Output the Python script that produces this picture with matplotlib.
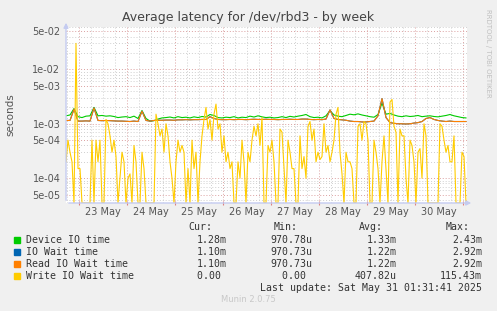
import datetime as dt
import numpy as np
import matplotlib
matplotlib.use('Agg')
import matplotlib.pyplot as plt
import matplotlib.dates as mdates
from matplotlib.ticker import FixedLocator, LogLocator, NullFormatter

W, H = 497, 311

# data (milliseconds)
start = dt.datetime(2025, 5, 22, 17, 30)

# 2-hourly samples
device_io = [
    1.40, 1.45, 1.90, 1.35, 1.30, 1.38, 1.40, 2.00, 1.40, 1.42,
    1.38, 1.40, 1.36, 1.30, 1.33, 1.35, 1.30, 1.38, 1.25, 1.75,
    1.25, 1.12, 1.14, 1.22, 1.28, 1.30, 1.33, 1.28, 1.35, 1.30,
    1.32, 1.28, 1.34, 1.30, 1.36, 1.33, 1.48, 1.42, 1.30, 1.28,
    1.32, 1.30, 1.35, 1.28, 1.32, 1.30, 1.38, 1.33, 1.40, 1.34,
    1.30, 1.32, 1.28, 1.30, 1.35, 1.30, 1.37, 1.33, 1.38, 1.42,
    1.48, 1.35, 1.30, 1.32, 1.28, 1.40, 1.75, 1.45, 1.38, 1.35,
    1.42, 1.50, 1.46, 1.52, 1.45, 1.40, 1.35, 1.32, 1.48, 2.40,
    1.50, 1.55, 1.45, 1.38, 1.35, 1.40, 1.36, 1.38, 1.42, 1.35,
    1.38, 1.40, 1.36, 1.34, 1.38, 1.42, 1.48, 1.40, 1.35, 1.30,
    1.28]

io_wait = [
    1.15, 1.15, 1.85, 1.12, 1.12, 1.13, 1.12, 1.95, 1.15, 1.14,
    1.15, 1.14, 1.13, 1.12, 1.12, 1.11, 1.10, 1.12, 1.10, 1.70,
    1.15, 1.12, 1.15, 1.16, 1.16, 1.17, 1.17, 1.16, 1.18, 1.18,
    1.19, 1.18, 1.19, 1.19, 1.20, 1.20, 1.35, 1.25, 1.20, 1.19,
    1.19, 1.20, 1.19, 1.20, 1.20, 1.19, 1.20, 1.21, 1.20, 1.20,
    1.21, 1.20, 1.20, 1.19, 1.20, 1.20, 1.21, 1.20, 1.20, 1.22,
    1.22, 1.20, 1.19, 1.20, 1.19, 1.22, 1.80, 1.25, 1.20, 1.18,
    1.16, 1.12, 1.10, 1.10, 1.08, 1.08, 1.10, 1.12, 1.40, 2.90,
    1.30, 1.05, 1.02, 1.00, 1.00, 0.99, 1.00, 1.03, 1.05, 1.10,
    1.25, 1.30, 1.20, 1.15, 1.12, 1.10, 1.12, 1.10, 1.10, 1.10,
    1.10]

read_io_wait = list(io_wait)

# hourly samples
write_io_wait = [
    0.20, 0.50, 0.30, 0.20, 0, 30.0, 0.15, 0.15, 0, 0,
    0, 0, 0, 0.50, 0, 0.50, 0.20, 0.50, 0, 0,
    1.20, 1.00, 0.60, 0.30, 0.50, 0.25, 0, 0.10, 0.30, 0.20,
    0, 0.10, 0.12, 0, 0.40, 0.20, 0, 0, 0.30, 0.15,
    0, 0, 0, 0, 0, 1.50, 1.00, 0.60, 0.80, 0.30,
    1.00, 0.60, 0.20, 0.10, 0, 0.20, 0.50, 0.30, 0.40, 0.30,
    0, 0.15, 0, 0.50, 0.15, 0.30, 0, 0.20, 0.60, 1.20,
    2.00, 0.80, 1.20, 0.50, 1.50, 2.30, 0.80, 1.00, 0.30, 0.60,
    0.20, 0.30, 0.15, 0.20, 0, 0, 0.20, 0.10, 0.50, 0.20,
    0, 0.30, 0.20, 0.50, 0.90, 0.60, 1.00, 0.40, 1.30, 0,
    0, 0.40, 0.30, 0.50, 0.20, 0, 0, 0.80, 0.70, 0.15,
    0, 0.50, 0.30, 0.15, 0.15, 0, 0, 0.60, 0.15, 0.25,
    0.10, 0.90, 1.10, 0.50, 0.80, 0.20, 0.30, 0.22, 0.25, 1.00,
    0.30, 0.40, 0.20, 0.30, 0.50, 1.50, 2.00, 0.30, 0.12, 0,
    0.30, 0.20, 0.20, 0.15, 0, 0, 0.90, 1.00, 0.50, 1.10,
    1.00, 0.50, 0, 0, 0.50, 0.30, 0.15, 0, 0.20, 0.60,
    0.15, 0, 2.50, 2.80, 0.90, 0.70, 0, 0.80, 0.60, 0.60,
    0.10, 0, 0.50, 0.40, 0.20, 0, 0.30, 0.35, 0.10, 1.00,
    0.60, 0, 0, 0, 0, 0, 0, 1.00, 0.90, 0.50,
    0.30, 0.40, 0.20, 0.20, 0.60, 0, 0, 0, 0.30, 0.25,
    0]

names = ['Device IO time', 'IO Wait time', 'Read IO Wait time', 'Write IO Wait time']
colors = ['#00CC00', '#0066B3', '#FF8000', '#FFCC00']
cur = ['1.28m', '1.10m', '1.10m', '0.00 ']
mins = ['970.78u', '970.73u', '970.73u', '0.00 ']
avgs = ['1.33m', '1.22m', '1.22m', '407.82u']
maxs = ['2.43m', '2.92m', '2.92m', '115.43m']
day_labels = ['23 May', '24 May', '25 May', '26 May', '27 May', '28 May', '29 May', '30 May']
ytick_vals = [5e-2, 1e-2, 5e-3, 1e-3, 5e-4, 1e-4, 5e-5]

t2 = [start + dt.timedelta(hours=2 * i) for i in range(len(device_io))]
t1 = [start + dt.timedelta(hours=i) for i in range(len(write_io_wait))]

ylo, yhi = 3.5e-5, 6.0e-2

fig = plt.figure(figsize=(W / 100, H / 100), dpi=100, facecolor='#F0F0F0')
ax = fig.add_axes([66 / W, 1 - 203 / H, 401 / W, 176 / H])
ax.set_facecolor('white')

series = [(t2, device_io), (t2, io_wait), (t2, read_io_wait), (t1, write_io_wait)]
for (tt, vals), c in zip(series, colors):
    v = np.clip(np.array(vals) * 1e-3, ylo, None)
    ax.plot(tt, v, color=c, lw=0.8, zorder=3)

ax.set_yscale('log')
ax.set_ylim(ylo, yhi)
ax.set_xlim(start, start + dt.timedelta(hours=200.5))

ax.yaxis.set_major_locator(FixedLocator(ytick_vals))
ax.set_yticklabels(['%.0e' % v for v in ytick_vals])
ax.yaxis.set_minor_locator(LogLocator(subs=[2, 3, 4, 6, 7, 8, 9], numticks=20))
ax.yaxis.set_minor_formatter(NullFormatter())

ax.xaxis.set_major_locator(mdates.DayLocator())
ax.xaxis.set_major_formatter(NullFormatter())
ax.xaxis.set_minor_locator(mdates.HourLocator(byhour=[6, 12, 18]))

ax.grid(which='major', color='#dba0a0', ls=(0, (1, 2)), lw=0.7)
ax.grid(which='minor', color='#cfcfcf', ls=(0, (1, 2)), lw=0.7)
ax.tick_params(axis='y', which='both', length=0, labelsize=7, labelcolor='#555555', pad=4)
ax.tick_params(axis='x', which='major', length=3, direction='inout', color='#dd8080', width=0.8)
ax.tick_params(axis='x', which='minor', length=0)
for s in ax.spines.values():
    s.set_visible(False)

for i, lab in enumerate(day_labels):
    ax.text(dt.datetime(2025, 5, 23 + i, 12), -0.05, lab, transform=ax.get_xaxis_transform(),
            ha='center', va='center', fontsize=7, color='#555555')

# axis arrows
arrow = dict(arrowstyle='-|>', color='#c4cbf0', lw=1, mutation_scale=7)
ax.annotate('', xy=(66, H - 20), xytext=(66, H - 203), xycoords='figure pixels', arrowprops=arrow)
ax.annotate('', xy=(474, H - 203), xytext=(66, H - 203), xycoords='figure pixels', arrowprops=arrow)


def ftext(x, y, s, **kw):
    fig.text(x / W, 1 - y / H, s, va='center', **kw)


ftext(248, 18, 'Average latency for /dev/rbd3 - by week', ha='center', fontsize=9, color='#444444')
ftext(10, 115, 'seconds', ha='center', rotation=90, fontsize=7.5, color='#555555')
ftext(488, 53, 'RRDTOOL / TOBI OETIKER', ha='center', rotation=270, fontsize=5, color='#c0c0c0')

mono = dict(family='DejaVu Sans Mono', fontsize=7.1, color='#333333')
ftext(212, 227, 'Cur:', ha='right', **mono)
ftext(298, 227, 'Min:', ha='right', **mono)
ftext(383, 227, 'Avg:', ha='right', **mono)
ftext(470, 227, 'Max:', ha='right', **mono)
for i in range(4):
    y = 240 + 12 * i
    fig.patches.append(plt.Rectangle((14 / W, 1 - (y + 3) / H), 6 / W, 6 / H,
                                     transform=fig.transFigure, color=colors[i], figure=fig))
    ftext(26, y, names[i], ha='left', **mono)
    ftext(227, y, cur[i], ha='right', **mono)
    ftext(312, y, mins[i], ha='right', **mono)
    ftext(397, y, avgs[i], ha='right', **mono)
    ftext(482, y, maxs[i], ha='right', **mono)
ftext(482, 288, 'Last update: Sat May 31 01:31:41 2025', ha='right', **mono)
ftext(248, 300, 'Munin 2.0.75', ha='center', fontsize=6, color='#c8c8c8')

fig.savefig('out.png', dpi=100, facecolor=fig.get_facecolor())
